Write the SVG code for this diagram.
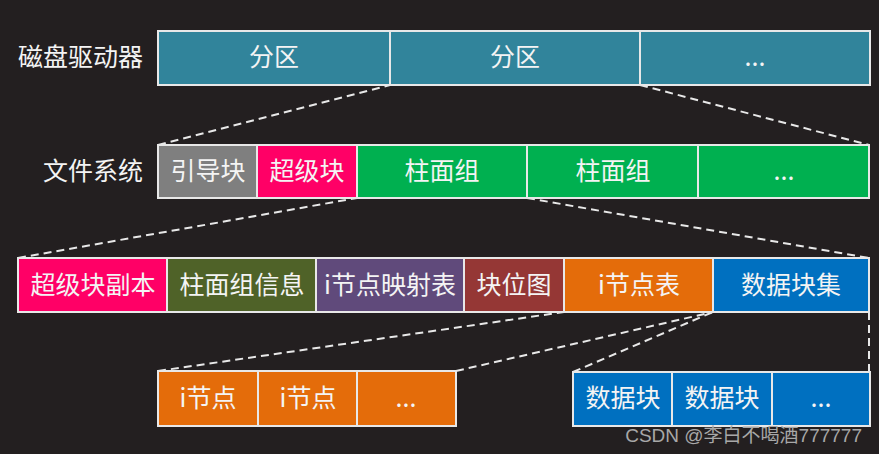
<svg xmlns="http://www.w3.org/2000/svg" width="879" height="454" viewBox="0 0 879 454">
<style>
.b{stroke:#e8e8e8;stroke-width:2}
.t{font-family:"Noto Sans CJK SC","Noto Sans",sans-serif;font-size:25px;fill:#f4f4f4;text-anchor:middle;dominant-baseline:central}
.l{font-family:"Noto Sans CJK SC","Noto Sans",sans-serif;font-size:25px;fill:#f4f4f4;text-anchor:end;dominant-baseline:central}
.d{stroke:#e8e8e8;stroke-width:2;stroke-dasharray:8 5;fill:none}
.teal{fill:#31849b}.gray{fill:#7f7f7f}.pink{fill:#ff0066}.green{fill:#00b050}.olive{fill:#4f6228}.purple{fill:#604a7b}.brown{fill:#953735}.orange{fill:#e46c0a}.blue{fill:#0070c0}
</style>
<rect width="879" height="454" fill="#231f20"/>
<g id="connectors">
<line class="d" x1="158" y1="145" x2="390" y2="85"/>
<line class="d" x1="640" y1="85" x2="869" y2="145"/>
<line class="d" x1="18" y1="258" x2="357" y2="198"/>
<line class="d" x1="527" y1="198" x2="869" y2="258"/>
<line class="d" x1="158" y1="371" x2="564" y2="312"/>
<line class="d" x1="456" y1="371" x2="713" y2="312"/>
<line class="d" x1="573" y1="372" x2="713" y2="312"/>
<line class="d" x1="869" y1="312" x2="869" y2="372"/>
</g>
<g id="label-disk"><text class="l" x="143" y="55">磁盘驱动器</text></g>
<g id="label-fs"><text class="l" x="143" y="169">文件系统</text></g>
<g id="partition1"><rect class="b teal" x="158" y="31" width="232" height="54"/><text class="t" x="274" y="55">分区</text></g>
<g id="partition2"><rect class="b teal" x="390" y="31" width="250" height="54"/><text class="t" x="515" y="55">分区</text></g>
<g id="partition3"><rect class="b teal" x="640" y="31" width="230" height="54"/><text class="t" x="755" y="55">...</text></g>
<g id="boot"><rect class="b gray" x="158" y="145" width="99" height="53"/><text class="t" x="208" y="169">引导块</text></g>
<g id="super"><rect class="b pink" x="257" y="145" width="100" height="53"/><text class="t" x="307" y="169">超级块</text></g>
<g id="cg1"><rect class="b green" x="357" y="145" width="170" height="53"/><text class="t" x="442" y="169">柱面组</text></g>
<g id="cg2"><rect class="b green" x="527" y="145" width="171" height="53"/><text class="t" x="613" y="169">柱面组</text></g>
<g id="cg3"><rect class="b green" x="698" y="145" width="171" height="53"/><text class="t" x="784" y="169">...</text></g>
<g id="supercopy"><rect class="b pink" x="18" y="258" width="149" height="54"/><text class="t" x="93" y="283">超级块副本</text></g>
<g id="cginfo"><rect class="b olive" x="167" y="258" width="149" height="54"/><text class="t" x="242" y="283">柱面组信息</text></g>
<g id="imap"><rect class="b purple" x="316" y="258" width="148" height="54"/><text class="t" x="390" y="283">i节点映射表</text></g>
<g id="bitmap"><rect class="b brown" x="464" y="258" width="100" height="54"/><text class="t" x="514" y="283">块位图</text></g>
<g id="itable"><rect class="b orange" x="564" y="258" width="149" height="54"/><text class="t" x="639" y="283">i节点表</text></g>
<g id="dataset"><rect class="b blue" x="713" y="258" width="156" height="54"/><text class="t" x="791" y="283">数据块集</text></g>
<g id="inode1"><rect class="b orange" x="158" y="371" width="100" height="55"/><text class="t" x="208" y="396">i节点</text></g>
<g id="inode2"><rect class="b orange" x="258" y="371" width="99" height="55"/><text class="t" x="308" y="396">i节点</text></g>
<g id="inode3"><rect class="b orange" x="357" y="371" width="99" height="55"/><text class="t" x="406" y="396">...</text></g>
<g id="data1"><rect class="b blue" x="573" y="372" width="99" height="54"/><text class="t" x="623" y="396">数据块</text></g>
<g id="data2"><rect class="b blue" x="672" y="372" width="100" height="54"/><text class="t" x="722" y="396">数据块</text></g>
<g id="data3"><rect class="b blue" x="772" y="372" width="98" height="54"/><text class="t" x="821" y="396">...</text></g>
<text x="862" y="442" text-anchor="end" font-family="Liberation Sans,'Noto Sans CJK SC',sans-serif" font-size="19" fill="#a8a8a8">CSDN @李白不喝酒777777</text>
</svg>
